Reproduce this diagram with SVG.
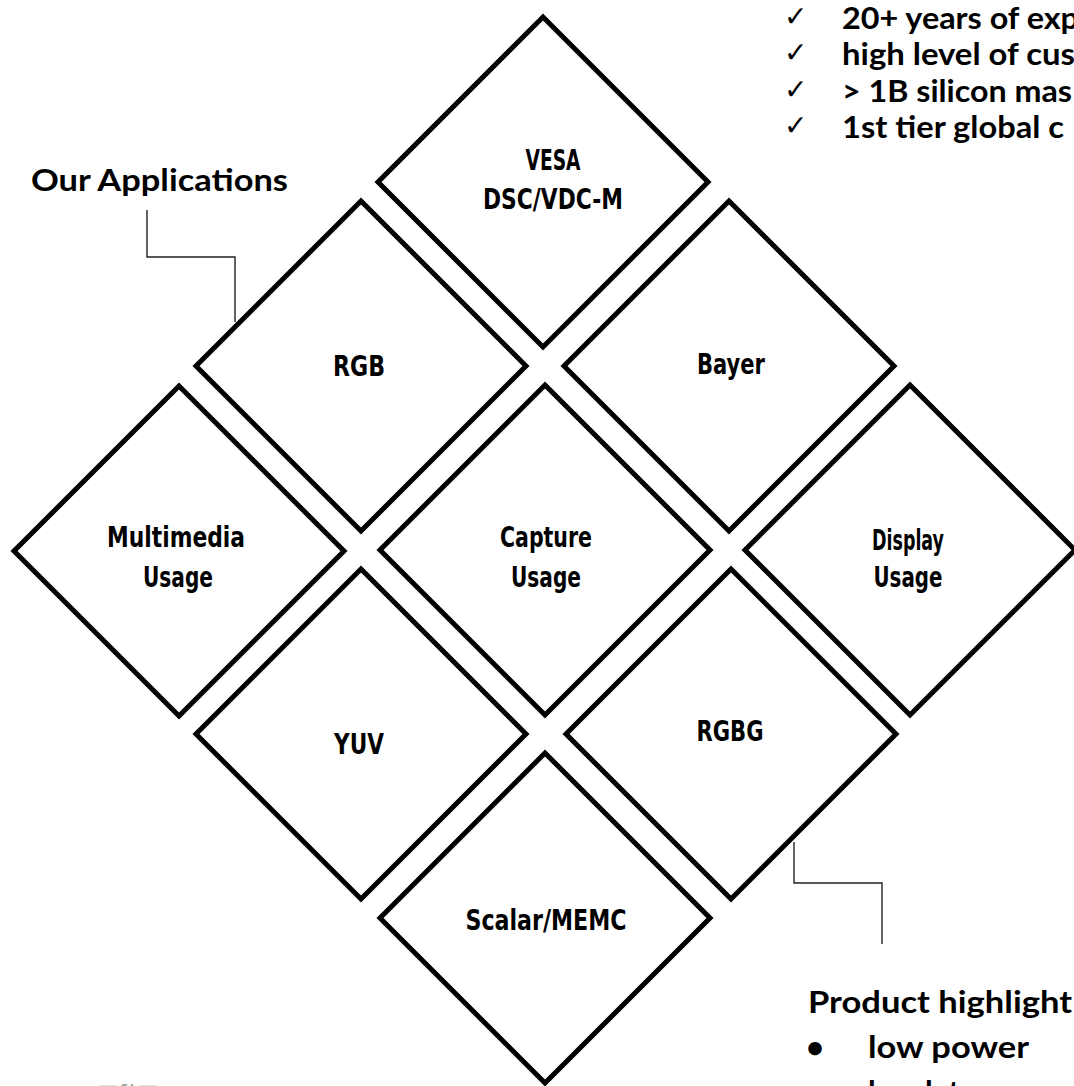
<svg xmlns="http://www.w3.org/2000/svg" width="1074" height="1086" viewBox="0 0 1074 1086">
<style>
.dia{fill:#fff;stroke:#000;stroke-width:5;stroke-linejoin:miter}
.lbl{font-family:"Liberation Sans Narrow","DejaVu Sans",sans-serif;font-weight:bold;font-size:28px;fill:#000;text-anchor:middle}
.cal{font-family:Lato,"Open Sans",sans-serif;font-weight:bold;font-size:31px;fill:#000}
.chk{font-family:"DejaVu Sans",sans-serif;font-size:28px;fill:#000}
.con{fill:none;stroke:#222;stroke-width:1.4}
</style>
<rect width="1074" height="1086" fill="#fff"/>
<g id="connectors">
<polyline class="con" points="147,210 147,257 235,257 235,322"/>
<polyline class="con" points="794,842 794,883 882,883 882,944"/>
</g>
<g id="node-vesa"><polygon class="dia" points="543,17 708,182 543,347 378,182"/>
<text class="lbl" x="553" y="170" textLength="55" lengthAdjust="spacingAndGlyphs">VESA</text>
<text class="lbl" x="553" y="209" textLength="140" lengthAdjust="spacingAndGlyphs">DSC/VDC-M</text></g>
<g id="node-rgb"><polygon class="dia" points="361,201 526,366 361,531 196,366"/>
<text class="lbl" x="359" y="376" textLength="52" lengthAdjust="spacingAndGlyphs">RGB</text></g>
<g id="node-bayer"><polygon class="dia" points="729,201 894,366 729,531 564,366"/>
<text class="lbl" x="731" y="374" textLength="68" lengthAdjust="spacingAndGlyphs">Bayer</text></g>
<g id="node-multimedia"><polygon class="dia" points="179,386 344,551 179,716 14,551"/>
<text class="lbl" x="176" y="547" textLength="138" lengthAdjust="spacingAndGlyphs">Multimedia</text>
<text class="lbl" x="178" y="587" textLength="70" lengthAdjust="spacingAndGlyphs">Usage</text></g>
<g id="node-capture"><polygon class="dia" points="545,385 710,550 545,715 380,550"/>
<text class="lbl" x="546" y="547" textLength="92" lengthAdjust="spacingAndGlyphs">Capture</text>
<text class="lbl" x="546" y="587" textLength="70" lengthAdjust="spacingAndGlyphs">Usage</text></g>
<g id="node-display"><polygon class="dia" points="910,385 1075,550 910,715 745,550"/>
<text class="lbl" x="908" y="550" textLength="72" lengthAdjust="spacingAndGlyphs">Display</text>
<text class="lbl" x="908" y="587" textLength="69" lengthAdjust="spacingAndGlyphs">Usage</text></g>
<g id="node-yuv"><polygon class="dia" points="361,569 526,734 361,899 196,734"/>
<text class="lbl" x="359" y="754" textLength="50" lengthAdjust="spacingAndGlyphs">YUV</text></g>
<g id="node-rgbg"><polygon class="dia" points="731,569 896,734 731,899 566,734"/>
<text class="lbl" x="730" y="741" textLength="67" lengthAdjust="spacingAndGlyphs">RGBG</text></g>
<g id="node-scalar"><polygon class="dia" points="545,753 710,918 545,1083 380,918"/>
<text class="lbl" x="546" y="930" textLength="161" lengthAdjust="spacingAndGlyphs">Scalar/MEMC</text></g>
<g id="label-applications">
<text class="cal" x="31" y="191" textLength="257" lengthAdjust="spacingAndGlyphs">Our Applications</text></g>
<g id="label-experience">
<text class="chk" x="784" y="26">✓</text>
<text class="chk" x="784" y="62">✓</text>
<text class="chk" x="784" y="99">✓</text>
<text class="chk" x="784" y="135">✓</text>
<text class="cal" x="842" y="29" textLength="237" lengthAdjust="spacingAndGlyphs">20+ years of exp</text>
<text class="cal" x="842" y="65" textLength="233" lengthAdjust="spacingAndGlyphs">high level of cus</text>
<text class="cal" x="842" y="102" textLength="230" lengthAdjust="spacingAndGlyphs">&gt; 1B silicon mas</text>
<text class="cal" x="842" y="138" textLength="222" lengthAdjust="spacingAndGlyphs">1st tier global c</text></g>
<g id="label-highlights">
<text class="cal" x="808" y="1013" textLength="264" lengthAdjust="spacingAndGlyphs">Product highlight</text>
<text class="cal" x="806" y="1058">•</text>
<text class="cal" x="868" y="1058" textLength="161" lengthAdjust="spacingAndGlyphs">low power</text>
<text class="cal" x="806" y="1103">•</text>
<text class="cal" x="868" y="1103">low latency</text></g>
<g id="footer"><text x="98" y="1100" font-family="'DejaVu Sans',sans-serif" font-size="22" fill="#999">□ƒ‡□</text></g>
</svg>
